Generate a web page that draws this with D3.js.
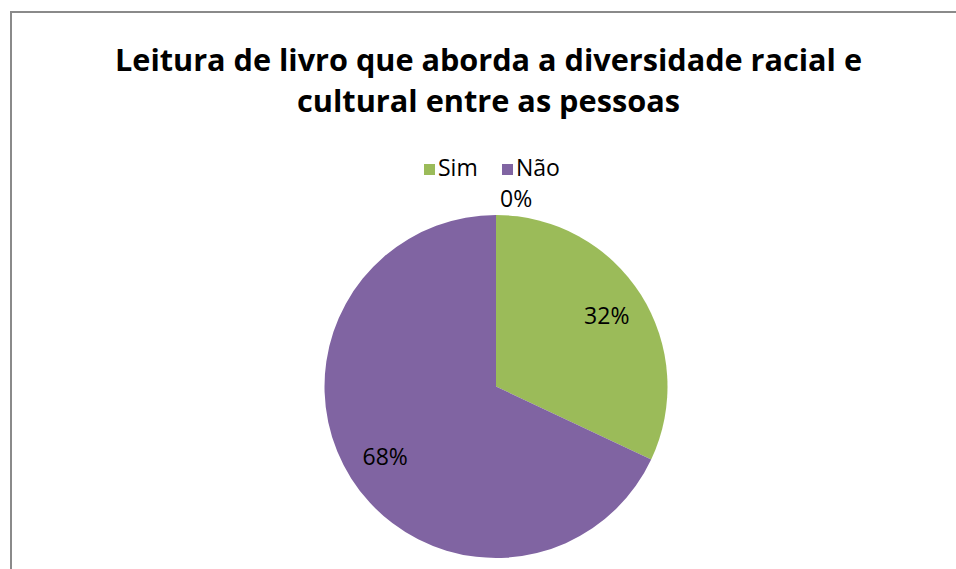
<!DOCTYPE html>
<html>
<head>
<meta charset="utf-8">
<script src="https://cdn.jsdelivr.net/npm/d3@7"></script>
<style>
  html, body { margin: 0; padding: 0; background: #fff; }
  svg { display: block; }
</style>
</head>
<body>
<script>
// chart data
var titleLines = ['Leitura de livro que aborda a diversidade racial e', 'cultural entre as pessoas'];
var categories = ['Sim', 'Não', ''];
var values = [32, 68, 0];
var colors = ['#9bbb59', '#8064a2', '#4bacc6'];

var width = 956, height = 569;
var cx = 496, cy = 386.5, radius = 171.5;

var svg = d3.select('body').append('svg')
    .attr('width', width)
    .attr('height', height);

// chart frame (only top and left edges are inside the picture)
svg.append('rect')
    .attr('x', 11).attr('y', 12)
    .attr('width', 1200).attr('height', 1200)
    .attr('fill', 'none')
    .attr('stroke', '#8a8a8a')
    .attr('stroke-width', 2);

// title, squeezed to the width of the original narrow font
var titleWidths = [747, 383];
svg.selectAll('text.title')
    .data(titleLines)
    .join('text')
    .attr('class', 'title')
    .attr('x', 488.5)
    .attr('y', function(d, i) { return 71 + i * 41; })
    .attr('text-anchor', 'middle')
    .attr('textLength', function(d, i) { return titleWidths[i]; })
    .attr('lengthAdjust', 'spacingAndGlyphs')
    .style('font-family', '"Open Sans", sans-serif')
    .style('font-weight', 'bold')
    .style('font-size', '31px')
    .style('fill', '#000')
    .text(function(d) { return d; });

// legend (only named categories)
var legendItems = categories.map(function(c, i) { return {name: c, color: colors[i]}; })
    .filter(function(d) { return d.name !== ''; });
var legendX = [424, 502];
var legend = svg.selectAll('g.legend')
    .data(legendItems)
    .join('g')
    .attr('class', 'legend')
    .attr('transform', function(d, i) { return 'translate(' + legendX[i] + ',164)'; });
legend.append('rect')
    .attr('width', 11).attr('height', 11)
    .attr('fill', function(d) { return d.color; });
legend.append('text')
    .attr('x', 14).attr('y', 12)
    .style('font-family', '"Open Sans", sans-serif')
    .style('font-size', '23px')
    .style('fill', '#000')
    .text(function(d) { return d.name; });

// pie
var pie = d3.pie().sort(null).value(function(d) { return d; });
var arcs = pie(values);
var arc = d3.arc().innerRadius(0).outerRadius(radius);
var labelArc = d3.arc().innerRadius(radius * 0.765).outerRadius(radius * 0.765);

var g = svg.append('g').attr('transform', 'translate(' + cx + ',' + cy + ')');
g.selectAll('path')
    .data(arcs)
    .join('path')
    .attr('d', arc)
    .attr('fill', function(d, i) { return colors[i]; });

var total = d3.sum(values);
function pct(d) { return Math.round(d.value / total * 100) + '%'; }

g.selectAll('text.lbl')
    .data(arcs)
    .join('text')
    .attr('class', 'lbl')
    .attr('transform', function(d) {
        if (d.value === 0) {
            // zero slice: label sits just outside the rim
            var a = d.startAngle;
            var px = Math.sin(a) * radius, py = -Math.cos(a) * radius;
            return 'translate(' + (px + 4) + ',' + (py - 8) + ')';
        }
        var c = labelArc.centroid(d);
        return 'translate(' + c[0] + ',' + (c[1] + 8) + ')';
    })
    .attr('text-anchor', function(d) { return d.value === 0 ? 'start' : 'middle'; })
    .style('font-family', '"Open Sans", sans-serif')
    .style('font-size', '23px')
    .style('fill', '#000')
    .text(pct);
</script>
</body>
</html>
